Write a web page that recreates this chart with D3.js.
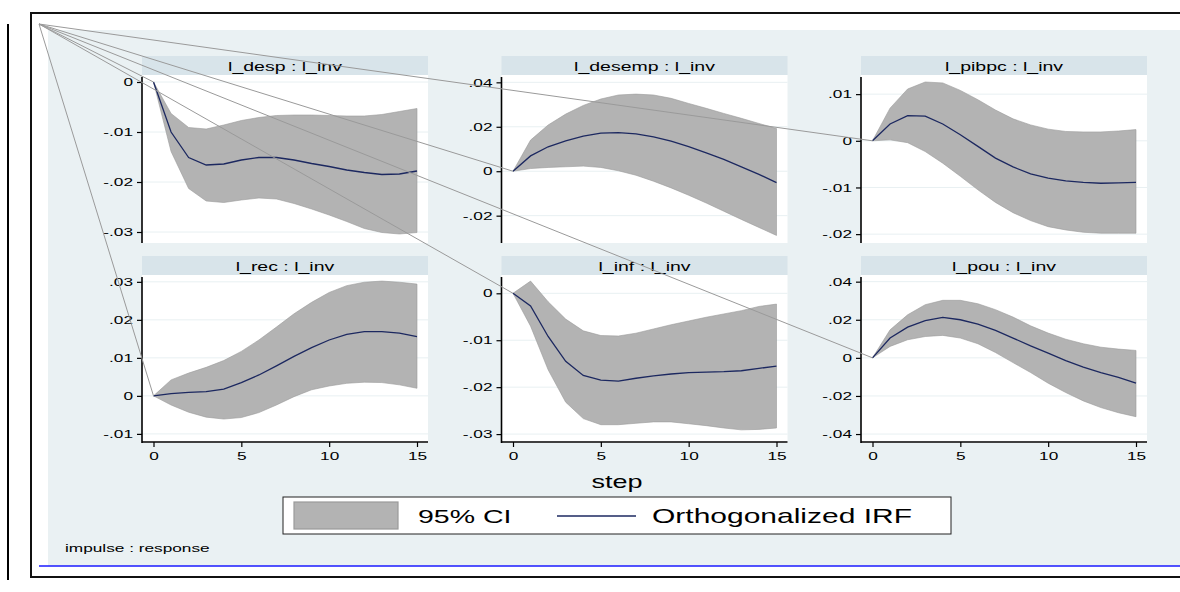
<!DOCTYPE html>
<html>
<head>
<meta charset="utf-8">
<script src="https://cdn.jsdelivr.net/npm/d3@7"></script>
<style>
body { margin: 0; background: #fff; }
svg { display: block; }
text { font-family: "Liberation Sans", Arial, sans-serif; fill: #000; }
</style>
</head>
<body>
<div id="chart"></div>
<script>
// steps of the impulse response
const steps = [0, 1, 2, 3, 4, 5, 6, 7, 8, 9, 10, 11, 12, 13, 14, 15];
const xTicks = [0, 5, 10, 15];

const titles = ['l_desp : l_inv', 'l_desemp : l_inv', 'l_pibpc : l_inv',
                'l_rec : l_inv', 'l_inf : l_inv', 'l_pou : l_inv'];

// orthogonalized IRF and 95% CI
const irf_desp = [0, -0.0100, -0.0151, -0.0166, -0.0164, -0.0156, -0.0151, -0.0151, -0.0156, -0.0163, -0.0169, -0.0176, -0.0181, -0.0185, -0.0184, -0.0178];
const hi_desp  = [0, -0.0063, -0.0091, -0.0094, -0.0086, -0.0077, -0.0071, -0.0067, -0.0066, -0.0066, -0.0067, -0.0068, -0.0068, -0.0065, -0.0059, -0.0053];
const lo_desp  = [0, -0.0139, -0.0213, -0.0238, -0.0241, -0.0236, -0.0232, -0.0234, -0.0243, -0.0254, -0.0266, -0.0279, -0.0293, -0.0301, -0.0304, -0.0301];

const irf_desemp = [0, 0.0069, 0.0110, 0.0137, 0.0158, 0.0171, 0.0174, 0.0168, 0.0155, 0.0135, 0.0111, 0.0083, 0.0053, 0.0020, -0.0014, -0.0051];
const hi_desemp  = [0, 0.0140, 0.0208, 0.0257, 0.0296, 0.0325, 0.0343, 0.0347, 0.0343, 0.0328, 0.0305, 0.0283, 0.0260, 0.0238, 0.0215, 0.0192];
const lo_desemp  = [0, 0.0012, 0.0017, 0.0020, 0.0023, 0.0017, 0.0002, -0.0018, -0.0045, -0.0075, -0.0108, -0.0143, -0.0180, -0.0217, -0.0253, -0.0289];

const irf_pibpc = [0, 0.0036, 0.0054, 0.0053, 0.0036, 0.0013, -0.0012, -0.0037, -0.0056, -0.0071, -0.0080, -0.0086, -0.0089, -0.0091, -0.0090, -0.0089];
const hi_pibpc  = [0, 0.0070, 0.0111, 0.0126, 0.0124, 0.0108, 0.0088, 0.0066, 0.0047, 0.0034, 0.0025, 0.0020, 0.0019, 0.0019, 0.0021, 0.0024];
const lo_pibpc  = [0, 0.0002, -0.0004, -0.0023, -0.0048, -0.0076, -0.0105, -0.0132, -0.0154, -0.0171, -0.0184, -0.0191, -0.0196, -0.0198, -0.0198, -0.0198];

const irf_rec = [0, 0.0006, 0.0009, 0.0011, 0.0018, 0.0035, 0.0055, 0.0079, 0.0104, 0.0127, 0.0147, 0.0162, 0.0169, 0.0169, 0.0165, 0.0156];
const hi_rec  = [0, 0.0042, 0.0060, 0.0075, 0.0093, 0.0117, 0.0147, 0.0181, 0.0216, 0.0246, 0.0272, 0.0290, 0.0299, 0.0302, 0.0299, 0.0294];
const lo_rec  = [0, -0.0024, -0.0043, -0.0056, -0.0061, -0.0057, -0.0044, -0.0024, -0.0002, 0.0016, 0.0026, 0.0033, 0.0036, 0.0035, 0.0029, 0.0020];

const irf_inf = [0, -0.0027, -0.0092, -0.0145, -0.0175, -0.0185, -0.0187, -0.0181, -0.0176, -0.0172, -0.0169, -0.0168, -0.0167, -0.0165, -0.0160, -0.0155];
const hi_inf  = [0, 0.0026, -0.0018, -0.0055, -0.0080, -0.0090, -0.0091, -0.0085, -0.0076, -0.0067, -0.0059, -0.0051, -0.0044, -0.0037, -0.0028, -0.0023];
const lo_inf  = [0, -0.0070, -0.0163, -0.0232, -0.0267, -0.0280, -0.0280, -0.0277, -0.0274, -0.0274, -0.0278, -0.0282, -0.0287, -0.0291, -0.0290, -0.0287];

const irf_pou = [0, 0.0104, 0.0161, 0.0196, 0.0212, 0.0200, 0.0177, 0.0144, 0.0104, 0.0063, 0.0025, -0.0014, -0.0049, -0.0077, -0.0102, -0.0133];
const hi_pou  = [0, 0.0147, 0.0226, 0.0279, 0.0302, 0.0302, 0.0284, 0.0253, 0.0214, 0.0168, 0.0130, 0.0098, 0.0074, 0.0056, 0.0046, 0.0039];
const lo_pou  = [0, 0.0060, 0.0095, 0.0112, 0.0118, 0.0104, 0.0074, 0.0028, -0.0025, -0.0077, -0.0133, -0.0182, -0.0226, -0.0261, -0.0288, -0.0309];

// y axis ranges and tick values per panel
const yDomains = [[-0.0322, 0.0014], [-0.0323, 0.0433], [-0.0219, 0.0141],
                  [-0.0124, 0.0318], [-0.0319, 0.0039], [-0.0447, 0.0435]];
const yTicks = [[0, -0.01, -0.02, -0.03], [0.04, 0.02, 0, -0.02], [0.01, 0, -0.01, -0.02],
                [0.03, 0.02, 0.01, 0, -0.01], [0, -0.01, -0.02, -0.03], [0.04, 0.02, 0, -0.02, -0.04]];

const legendLabels = ['95% CI', 'Orthogonalized IRF'];

const panels = [
    { irf: irf_desp, lo: lo_desp, hi: hi_desp },
    { irf: irf_desemp, lo: lo_desemp, hi: hi_desemp },
    { irf: irf_pibpc, lo: lo_pibpc, hi: hi_pibpc },
    { irf: irf_rec, lo: lo_rec, hi: hi_rec },
    { irf: irf_inf, lo: lo_inf, hi: hi_inf },
    { irf: irf_pou, lo: lo_pou, hi: hi_pou }
];

const width = 1180, height = 592;
const stretch = 1.5; // the picture's text is drawn wide

// layout
const colLeft = [142, 501.5, 861];
const rowTop = [56, 256];
const plotW = 286, titleH = 19, plotH = 168;

const stata_fmt = v => v === 0 ? '0' : (v < 0 ? '-' : '') + String(+Math.abs(v).toFixed(3)).replace(/^0/, '');

const svg = d3.select('#chart')
    .append('svg')
    .attr('width', width)
    .attr('height', height);

function wideText(g, x, y, str, size, anchor) {
    return g.append('text')
        .attr('transform', `translate(${x},${y}) scale(${stretch},1)`)
        .attr('text-anchor', anchor || 'middle')
        .attr('font-size', size)
        .text(str);
}

// outer frame
svg.append('line').attr('x1', 8).attr('x2', 8).attr('y1', 24).attr('y2', 580)
    .attr('stroke', '#000').attr('stroke-width', 2);
svg.append('rect').attr('x', 31).attr('y', 13).attr('width', width + 20).attr('height', 564)
    .attr('fill', '#fff').attr('stroke', '#111').attr('stroke-width', 2);
svg.append('rect').attr('x', 48).attr('y', 30).attr('width', width - 48).attr('height', 536)
    .attr('fill', '#eaf1f3');
svg.append('line').attr('x1', 39).attr('x2', width).attr('y1', 566).attr('y2', 566)
    .attr('stroke', '#1a1aff').attr('stroke-width', 1.5);

const ends = [];

panels.forEach((p, i) => {
    const col = i % 3, row = Math.floor(i / 3);
    const left = colLeft[col];
    const top = rowTop[row] + titleH;

    const x = d3.scaleLinear().domain([0, 15]).range([left + 11.5, left + 275]);
    const y = d3.scaleLinear().domain(yDomains[i]).range([top + plotH, top]);

    const g = svg.append('g');

    // title bar
    g.append('rect').attr('x', left).attr('y', rowTop[row]).attr('width', plotW).attr('height', titleH)
        .attr('fill', '#d8e4ea');
    wideText(g, left + plotW / 2, rowTop[row] + 15, titles[i], 13);

    // plot region
    g.append('rect').attr('x', left).attr('y', top).attr('width', plotW).attr('height', plotH)
        .attr('fill', '#fff');

    g.selectAll('.grid').data(yTicks[i]).join('line')
        .attr('x1', left).attr('x2', left + plotW)
        .attr('y1', d => y(d)).attr('y2', d => y(d))
        .attr('stroke', '#e8f0f2').attr('stroke-width', 1);

    // CI band
    const area = d3.area()
        .x((d, k) => x(steps[k]))
        .y0((d, k) => y(p.lo[k]))
        .y1((d, k) => y(p.hi[k]));
    g.append('path').datum(steps).attr('d', area)
        .attr('fill', '#b3b3b3').attr('stroke', '#9a9a9a').attr('stroke-width', 0.6);

    // IRF line
    const line = d3.line()
        .x((d, k) => x(steps[k]))
        .y((d, k) => y(p.irf[k]));
    g.append('path').datum(steps).attr('d', line)
        .attr('fill', 'none').attr('stroke', '#1c2860').attr('stroke-width', 1.3);

    // y axis
    const yAxis = d3.axisLeft(y).tickValues(yTicks[i]).tickFormat(stata_fmt)
        .tickSize(5).tickSizeOuter(0).tickPadding(4);
    const ya = g.append('g').attr('transform', `translate(${left},0)`).call(yAxis);
    ya.select('.domain').remove();
    ya.selectAll('.tick line').attr('stroke', '#000').attr('stroke-width', 1.2);
    ya.selectAll('.tick text')
        .attr('font-size', 11.5).attr('font-family', '"Liberation Sans", Arial, sans-serif')
        .attr('fill', '#000')
        .attr('x', -9 / stretch)
        .attr('transform', `scale(${stretch},1)`);
    g.append('line').attr('x1', left).attr('x2', left).attr('y1', top + 2).attr('y2', top + plotH)
        .attr('stroke', '#000').attr('stroke-width', 1.6);

    // x axis only on the bottom row
    if (row === 1) {
        const xAxis = d3.axisBottom(x).tickValues(xTicks).tickSize(5).tickSizeOuter(0).tickPadding(5);
        const xa = g.append('g').attr('transform', `translate(0,${top + plotH - 1})`).call(xAxis);
        xa.select('.domain').remove();
        xa.selectAll('.tick line').attr('stroke', '#000').attr('stroke-width', 1.2);
        xa.selectAll('.tick text')
            .attr('font-size', 11.5).attr('font-family', '"Liberation Sans", Arial, sans-serif')
            .attr('fill', '#000')
            .attr('transform', `scale(${stretch},1)`);
        g.append('line').attr('x1', left).attr('x2', left + plotW)
            .attr('y1', top + plotH - 1).attr('y2', top + plotH - 1)
            .attr('stroke', '#000').attr('stroke-width', 1.6);
    }

    ends.push([x(steps[0]), y(p.irf[0])]);
});

// x title
wideText(svg, 617, 488, 'step', 18);

// legend
const lg = svg.append('g');
lg.append('rect').attr('x', 283).attr('y', 497).attr('width', 668).attr('height', 37)
    .attr('fill', '#fff').attr('stroke', '#222').attr('stroke-width', 1);
lg.append('rect').attr('x', 294).attr('y', 502).attr('width', 104).attr('height', 27)
    .attr('fill', '#b3b3b3').attr('stroke', '#9a9a9a').attr('stroke-width', 1.2);
wideText(lg, 418, 523, legendLabels[0], 19, 'start');
lg.append('line').attr('x1', 557).attr('x2', 636).attr('y1', 516).attr('y2', 516)
    .attr('stroke', '#1c2860').attr('stroke-width', 1.3);
wideText(lg, 652, 523, legendLabels[1], 20, 'start');

// note
wideText(svg, 65, 552, 'impulse : response', 11.5, 'start');

// stray connector lines from the corner to each panel's first point
svg.selectAll('.stray').data(ends).join('line')
    .attr('x1', 39).attr('y1', 24)
    .attr('x2', d => d[0]).attr('y2', d => d[1])
    .attr('stroke', '#9a9a9a').attr('stroke-width', 1);
</script>
</body>
</html>
